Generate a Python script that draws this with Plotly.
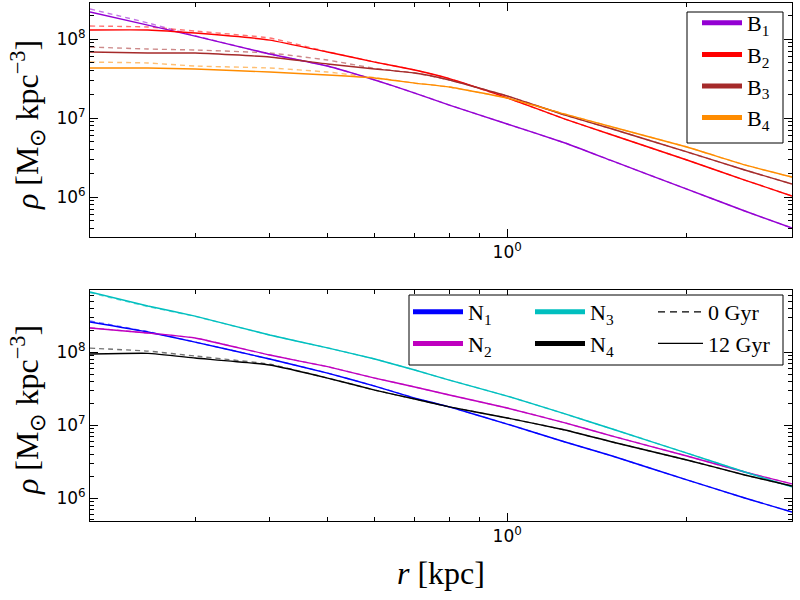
import numpy as np
import plotly.graph_objects as go

# ---------------- data ----------------
r = [0.2, 0.25, 0.3, 0.4, 0.5, 0.6, 0.7, 0.8, 1.0, 1.25, 1.5, 2.0, 2.5, 3.0]

# top panel, 12 Gyr (solid)
B1_12 = [2.20e8, 1.50e8, 1.09e8, 6.46e7, 4.55e7, 3.03e7, 2.07e7, 1.46e7, 8.40e6, 4.83e6, 2.86e6, 1.26e6, 6.65e5, 4.05e5]
B2_12 = [1.30e8, 1.30e8, 1.19e8, 9.70e7, 6.84e7, 5.11e7, 4.05e7, 3.15e7, 1.80e7, 9.70e6, 6.10e6, 2.94e6, 1.64e6, 1.03e6]
B3_12 = [6.84e7, 6.65e7, 6.65e7, 5.92e7, 4.83e7, 4.17e7, 3.71e7, 3.03e7, 1.90e7, 1.09e7, 7.26e6, 3.72e6, 2.20e6, 1.46e6]
B4_12 = [4.30e7, 4.30e7, 4.17e7, 3.82e7, 3.50e7, 3.21e7, 2.77e7, 2.47e7, 1.79e7, 1.12e7, 7.69e6, 4.30e6, 2.55e6, 1.79e6]
# top panel, 0 Gyr (dashed)
B1_0 = [2.40e8, 1.60e8, 1.10e8, 6.46e7, 4.55e7, 3.03e7, 2.07e7, 1.46e7, 8.40e6, 4.83e6, 2.86e6, 1.26e6, 6.65e5, 4.05e5]
B2_0 = [1.46e8, 1.42e8, 1.26e8, 1.03e8, 6.90e7, 5.11e7, 4.05e7, 3.15e7, 1.80e7, 9.70e6, 6.10e6, 2.94e6, 1.64e6, 1.03e6]
B3_0 = [7.92e7, 7.47e7, 7.26e7, 6.65e7, 5.42e7, 4.25e7, 3.71e7, 3.03e7, 1.90e7, 1.09e7, 7.26e6, 3.72e6, 2.20e6, 1.46e6]
B4_0 = [5.11e7, 4.97e7, 4.55e7, 4.30e7, 3.82e7, 3.25e7, 2.77e7, 2.47e7, 1.79e7, 1.12e7, 7.69e6, 4.30e6, 2.55e6, 1.79e6]

# bottom panel, 12 Gyr (solid)
N1_12 = [2.58e8, 1.88e8, 1.37e8, 8.02e7, 5.15e7, 3.42e7, 2.34e7, 1.77e7, 1.03e7, 5.85e6, 3.76e6, 1.77e6, 1.00e6, 6.43e5]
N2_12 = [2.13e8, 1.82e8, 1.56e8, 9.10e7, 6.30e7, 4.40e7, 3.32e7, 2.58e7, 1.71e7, 1.07e7, 7.06e6, 3.76e6, 2.27e6, 1.56e6]
N3_12 = [6.64e8, 4.27e8, 3.11e8, 1.71e8, 1.14e8, 8.02e7, 5.67e7, 4.13e7, 2.49e7, 1.42e7, 8.81e6, 4.13e6, 2.27e6, 1.42e6]
N4_12 = [9.39e7, 9.60e7, 8.28e7, 6.64e7, 4.40e7, 3.01e7, 2.27e7, 1.77e7, 1.25e7, 8.55e6, 5.85e6, 3.32e6, 2.07e6, 1.46e6]
# bottom panel, 0 Gyr (dashed)
N1_0 = [2.66e8, 1.90e8, 1.37e8, 8.02e7, 5.15e7, 3.42e7, 2.34e7, 1.77e7, 1.03e7, 5.85e6, 3.76e6, 1.77e6, 1.00e6, 6.43e5]
N2_0 = [2.15e8, 1.82e8, 1.56e8, 9.10e7, 6.30e7, 4.40e7, 3.32e7, 2.58e7, 1.71e7, 1.07e7, 7.06e6, 3.76e6, 2.27e6, 1.56e6]
N3_0 = [6.50e8, 4.20e8, 3.08e8, 1.71e8, 1.14e8, 8.02e7, 5.67e7, 4.13e7, 2.49e7, 1.42e7, 8.81e6, 4.13e6, 2.27e6, 1.42e6]
N4_0 = [1.13e8, 1.03e8, 8.81e7, 6.80e7, 4.40e7, 3.01e7, 2.27e7, 1.77e7, 1.25e7, 8.55e6, 5.85e6, 3.32e6, 2.07e6, 1.46e6]

top_names = ["B<sub>1</sub>", "B<sub>2</sub>", "B<sub>3</sub>", "B<sub>4</sub>"]
top_colors = ["#9400D3", "#FF0000", "#A52A2A", "#FF8C00"]
top_12 = [B1_12, B2_12, B3_12, B4_12]
top_0 = [B1_0, B2_0, B3_0, B4_0]

bot_names = ["N<sub>1</sub>", "N<sub>2</sub>", "N<sub>3</sub>", "N<sub>4</sub>"]
bot_colors = ["#0000FF", "#BF00BF", "#00BFBF", "#000000"]
bot_12 = [N1_12, N2_12, N3_12, N4_12]
bot_0 = [N1_0, N2_0, N3_0, N4_0]

time_labels = ["0 Gyr", "12 Gyr"]

# ---------------- figure ----------------
fig = go.Figure()

def add_panel(vals0, vals12, colors, xa, ya):
    for v, c in zip(vals0, colors):
        fig.add_trace(go.Scatter(x=r, y=v, mode="lines", xaxis=xa, yaxis=ya,
                                 line=dict(color=c, width=1.4, dash="5px,4px", shape="spline", smoothing=0.4),
                                 opacity=0.55, showlegend=False, hoverinfo="skip"))
    for v, c in zip(vals12, colors):
        fig.add_trace(go.Scatter(x=r, y=v, mode="lines", xaxis=xa, yaxis=ya,
                                 line=dict(color=c, width=1.4, shape="spline", smoothing=0.4),
                                 showlegend=False, hoverinfo="skip"))

add_panel(top_0, top_12, top_colors, "x", "y")
add_panel(bot_0, bot_12, bot_colors, "x2", "y2")

# legend-only entries
for n, c in zip(top_names, top_colors):
    fig.add_trace(go.Scatter(x=[None], y=[None], mode="lines", name=n, xaxis="x", yaxis="y",
                             line=dict(color=c, width=5), legend="legend"))
for i, (n, c) in enumerate(zip(bot_names, bot_colors)):
    lg = "legend2" if i < 2 else "legend3"
    fig.add_trace(go.Scatter(x=[None], y=[None], mode="lines", name=n, xaxis="x2", yaxis="y2",
                             line=dict(color=c, width=5), legend=lg))
fig.add_trace(go.Scatter(x=[None], y=[None], mode="lines", name=time_labels[0], xaxis="x2", yaxis="y2",
                         line=dict(color="black", width=1.2, dash="7px,5px"), legend="legend4"))
fig.add_trace(go.Scatter(x=[None], y=[None], mode="lines", name=time_labels[1], xaxis="x2", yaxis="y2",
                         line=dict(color="black", width=1.2), legend="legend4"))

# ---------------- axes ----------------
W, H = 800, 600
xl, xr = 90, 792
top_t, top_b = 3, 237
bot_t, bot_b = 290, 521

x_minor = [v * 0.1 for v in range(2, 10)] + [2.0, 3.0]
y_minor = [m * 10.0 ** e for e in range(5, 9) for m in range(2, 10)]

tickfont = dict(family="DejaVu Sans", size=17, color="black")

def axis_common():
    return dict(showline=True, linecolor="black", linewidth=1, mirror="allticks",
                ticks="inside", ticklen=8, tickwidth=1, tickcolor="black",
                showgrid=False, zeroline=False, tickfont=tickfont, type="log")

def xaxis(anchor):
    d = axis_common()
    d.update(domain=[xl / W, xr / W], anchor=anchor,
             range=[np.log10(0.2), np.log10(3.0)],
             tickmode="array", tickvals=[1.0], ticktext=["10<sup>0</sup>"],
             minor=dict(ticks="inside", ticklen=4, tickwidth=1, tickcolor="black",
                        showgrid=False, tickmode="array", tickvals=x_minor))
    return d

def yaxis(anchor, dom, rng):
    d = axis_common()
    d.update(domain=dom, anchor=anchor, range=rng,
             tickmode="array", tickvals=[1e6, 1e7, 1e8],
             ticktext=["10<sup>6</sup>", "10<sup>7</sup>", "10<sup>8</sup>"],
             minor=dict(ticks="inside", ticklen=4, tickwidth=1, tickcolor="black",
                        showgrid=False, tickmode="array", tickvals=y_minor))
    return d

leg_font = dict(family="Liberation Serif", size=22, color="black")
clear = "rgba(0,0,0,0)"
title_font = dict(family="Liberation Serif", size=32, color="black")

fig.update_layout(
    width=W, height=H, margin=dict(l=0, r=0, t=0, b=0),
    paper_bgcolor="white", plot_bgcolor="white",
    xaxis=xaxis("y"),
    yaxis=yaxis("x", [1 - top_b / H, 1 - top_t / H], [5.494, 8.456]),
    xaxis2=xaxis("y2"),
    yaxis2=yaxis("x2", [1 - bot_b / H, 1 - bot_t / H], [5.685, 8.85]),
    legend=dict(x=697 / W, y=1 - 2 / H, xanchor="left", yanchor="top",
                bgcolor=clear, borderwidth=0, font=leg_font, itemwidth=40, tracegroupgap=0),
    legend2=dict(x=408 / W, y=1 - 291 / H, xanchor="left", yanchor="top",
                 bgcolor=clear, borderwidth=0, font=leg_font, itemwidth=50),
    legend3=dict(x=530 / W, y=1 - 291 / H, xanchor="left", yanchor="top",
                 bgcolor=clear, borderwidth=0, font=leg_font, itemwidth=50),
    legend4=dict(x=653 / W, y=1 - 291 / H, xanchor="left", yanchor="top",
                 bgcolor=clear, borderwidth=0, font=leg_font, itemwidth=45),
    shapes=[
        dict(type="rect", xref="paper", yref="paper",
             x0=687 / W, x1=783 / W, y0=1 - 143 / H, y1=1 - 12 / H,
             line=dict(color="black", width=1), fillcolor="white", layer="above"),
        dict(type="rect", xref="paper", yref="paper",
             x0=409 / W, x1=783 / W, y0=1 - 365 / H, y1=1 - 295 / H,
             line=dict(color="black", width=1), fillcolor="white", layer="above"),
    ],
    annotations=[
        dict(text="<i>ρ</i> [M<sub>⊙</sub> kpc<sup>−3</sup>]", xref="paper", yref="paper",
             x=27 / W, y=1 - 125 / H, xanchor="center", yanchor="middle",
             textangle=-90, showarrow=False, font=title_font),
        dict(text="<i>ρ</i> [M<sub>⊙</sub> kpc<sup>−3</sup>]", xref="paper", yref="paper",
             x=27 / W, y=1 - 410 / H, xanchor="center", yanchor="middle",
             textangle=-90, showarrow=False, font=title_font),
        dict(text="<i>r</i> [kpc]", xref="paper", yref="paper",
             x=441 / W, y=1 - 573 / H, xanchor="center", yanchor="middle",
             showarrow=False, font=title_font),
    ],
)

fig.write_html("out.html")
